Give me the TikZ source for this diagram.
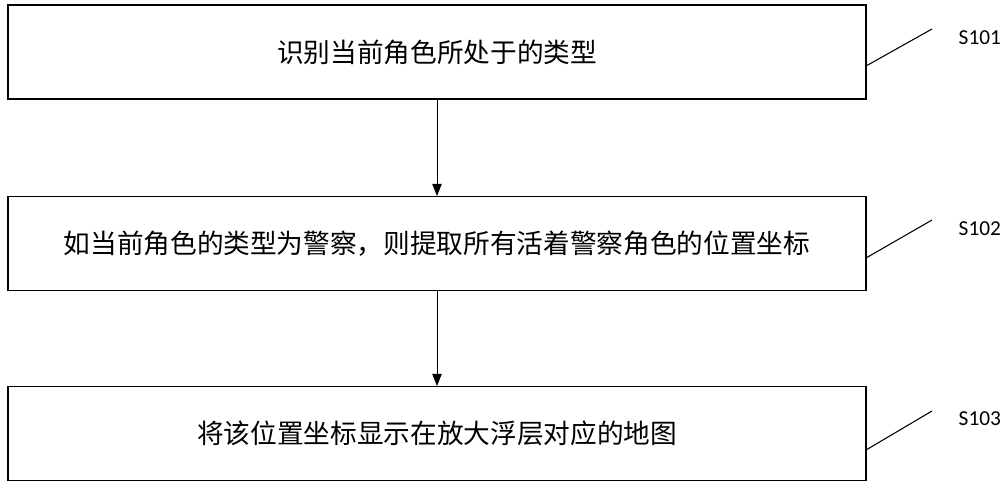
\documentclass[tikz,border=0pt]{standalone}
\usepackage{fontspec}
\newfontfamily\cjk{Noto Sans CJK SC}
\newfontfamily\lab{Carlito}
\usetikzlibrary{arrows.meta}
\begin{document}
\begin{tikzpicture}[x=0.75pt,y=-0.75pt,
  stepbox/.style={draw,line width=0.8pt,minimum width=858*0.75pt,minimum height=94*0.75pt,inner sep=0pt,font=\cjk\fontsize{20}{22}\selectfont},
  arr/.style={-{Triangle[length=9pt,width=7pt]},line width=0.6pt},
  lbl/.style={font=\lab\fontsize{16}{18}\selectfont,anchor=west}]
\useasboundingbox (0,0) rectangle (1000,490);
\node[stepbox] (b1) at (437,52) {识别当前角色所处于的类型};
\node[stepbox] (b2) at (437,243.5) {如当前角色的类型为警察，则提取所有活着警察角色的位置坐标};
\node[stepbox] (b3) at (437,433.5) {将该位置坐标显示在放大浮层对应的地图};
\draw[arr] (b1.south) -- (b2.north);
\draw[arr] (b2.south) -- (b3.north);
\node[lbl] (l1) at (954,38) {S101};
\node[lbl] (l2) at (954,229) {S102};
\node[lbl] (l3) at (954,419) {S103};
\coordinate (c1) at (932,29); \coordinate (c2) at (932,220); \coordinate (c3) at (932,411);
\draw[line width=0.8pt] (866,66) -- (c1);
\draw[line width=0.8pt] (866,258) -- (c2);
\draw[line width=0.8pt] (866,450) -- (c3);
\end{tikzpicture}
\end{document}
